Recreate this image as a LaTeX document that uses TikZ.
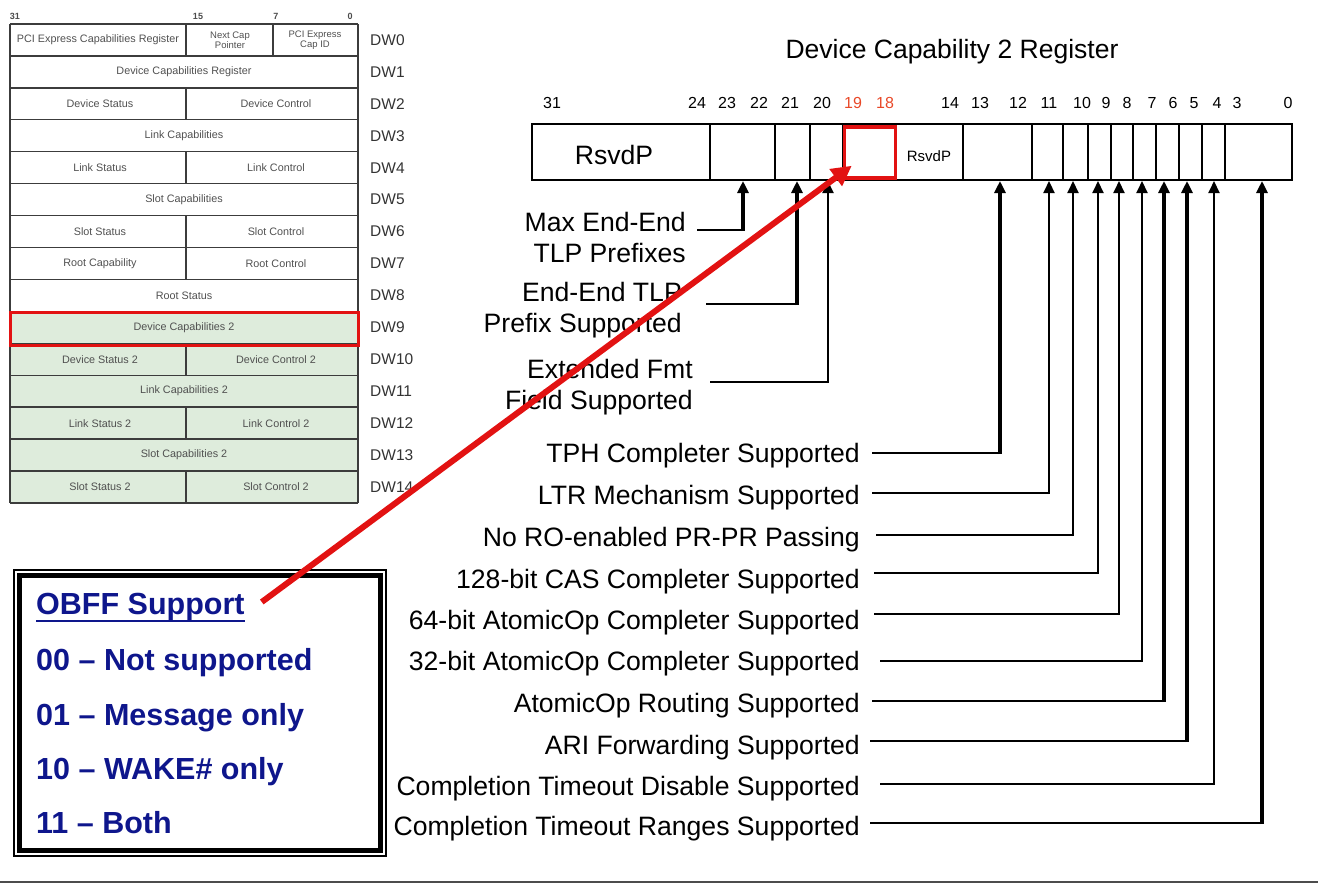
\documentclass[tikz,border=0pt]{standalone}
\usepackage{fontspec}
\setmainfont{Liberation Sans}
\usetikzlibrary{arrows.meta}
\definecolor{tabgreen}{RGB}{222,236,220}
\definecolor{navyt}{RGB}{14,22,140}
\definecolor{redbox}{RGB}{226,18,18}
\definecolor{bitred}{RGB}{232,72,40}
\definecolor{tabline}{RGB}{60,60,60}
\definecolor{tabtext}{RGB}{80,80,80}
\newcommand\lblfont{\fontsize{26.6}{31}\selectfont}
\newcommand\bitfont{\fontsize{16}{18}\selectfont}
\newcommand\tabfont{\fontsize{10.8}{11}\selectfont}
\newcommand\legfont{\fontsize{30.5}{34}\selectfont\bfseries}
\begin{document}
\begin{tikzpicture}[x=1pt,y=-1pt,
  lbl/.style={font=\lblfont, anchor=east, inner sep=0pt, text height=19pt, text depth=0pt},
  lbltwo/.style={font=\lblfont, anchor=east, inner sep=0pt, align=right},
  conn/.style={draw=black, -{Triangle[width=11pt,length=12pt]}},
  hconn/.style={draw=black, line width=2pt},
  bitnum/.style={font=\bitfont, inner sep=0pt},
  tabtxt/.style={font=\tabfont, text=tabtext, inner sep=0pt, align=center},
  dwlbl/.style={font=\fontsize{15.5}{17}\selectfont, text=black!80, anchor=west, inner sep=0pt},
  tline/.style={draw=tabline, line width=1.4pt},
  legtxt/.style={font=\legfont, text=navyt, anchor=west, inner sep=0pt, text height=21.8pt, text depth=0pt},
  redarrow/.style={draw=redbox, line width=6pt, -{Triangle[width=20pt,length=20pt]}}
]
\useasboundingbox (0,0) rectangle (1318,884);

% ---------------- left table ----------------
\fill[tabgreen] (10,311.4) rectangle (358,503);
\foreach \i in {0,...,15} \draw[tline] (10,{24+\i*31.93}) -- (358,{24+\i*31.93});
\draw[tline] (10,24) -- (10,503);
\draw[tline] (358,24) -- (358,503);
\foreach \i in {0,2,4,6,7,10,12,14} \draw[tline] (186,{24+\i*31.93}) -- (186,{24+(\i+1)*31.93});
\draw[tline] (273,24) -- (273,55.93);

\node[font=\fontsize{9}{10}\selectfont\bfseries, text=black!70, inner sep=0pt] (tb31) at (15,16) {31};
\node[font=\fontsize{9}{10}\selectfont\bfseries, text=black!70, inner sep=0pt] (tb15) at (198,16) {15};
\node[font=\fontsize{9}{10}\selectfont\bfseries, text=black!70, inner sep=0pt] (tb7) at (276,16) {7};
\node[font=\fontsize{9}{10}\selectfont\bfseries, text=black!70, inner sep=0pt] (tb0) at (350,16) {0};

\node[tabtxt] (c0a) at (98,40) {PCI Express Capabilities Register};
\node[tabtxt, font=\fontsize{9.5}{9.8}\selectfont] (c0b) at (230,40) {Next Cap\\Pointer};
\node[tabtxt, font=\fontsize{9.5}{9.8}\selectfont] (c0c) at (315,40) {PCI Express\\Cap ID};
\node[tabtxt] (c1) at (184,72) {Device Capabilities Register};
\node[tabtxt] (c2a) at (100,104) {Device Status};
\node[tabtxt] (c2b) at (276,104) {Device Control};
\node[tabtxt] (c3) at (184,136) {Link Capabilities};
\node[tabtxt] (c4a) at (100,168) {Link Status};
\node[tabtxt] (c4b) at (276,168) {Link Control};
\node[tabtxt] (c5) at (184,199.6) {Slot Capabilities};
\node[tabtxt] (c6a) at (100,231.5) {Slot Status};
\node[tabtxt] (c6b) at (276,231.5) {Slot Control};
\node[tabtxt] (c7a) at (100,263.5) {Root Capability};
\node[tabtxt] (c7b) at (276,263.5) {Root Control};
\node[tabtxt] (c8) at (184,295.4) {Root Status};
\node[tabtxt] (c9) at (184,327.4) {Device Capabilities 2};
\node[tabtxt] (c10a) at (100,359.3) {Device Status 2};
\node[tabtxt] (c10b) at (276,359.3) {Device Control 2};
\node[tabtxt] (c11) at (184,391.2) {Link Capabilities 2};
\node[tabtxt] (c12a) at (100,423.2) {Link Status 2};
\node[tabtxt] (c12b) at (276,423.2) {Link Control 2};
\node[tabtxt] (c13) at (184,455.1) {Slot Capabilities 2};
\node[tabtxt] (c14a) at (100,487) {Slot Status 2};
\node[tabtxt] (c14b) at (276,487) {Slot Control 2};

\foreach \i in {0,...,14} \node[dwlbl] (dw\i) at (370,{24+(\i+0.5)*31.93}) {DW\i};

\draw[draw=redbox, line width=3pt] (10,312.5) rectangle (358,345);

% ---------------- register ----------------
\node[font=\fontsize{26.5}{30}\selectfont, inner sep=0pt] (title) at (952,52) {Device Capability 2 Register};

\node[draw, line width=2pt, minimum width=760pt, minimum height=56pt, inner sep=0pt] (reg) at (912,152) {};
\foreach \x in {710,775,810,843,896,963,1032,1063,1088,1111,1133,1156,1179,1202,1225}
  \draw[line width=1.8pt] (\x,124) -- (\x,180);
\node[font=\lblfont, inner sep=0pt] (rsv1) at (614,155) {RsvdP};
\node[font=\fontsize{15}{17}\selectfont, inner sep=0pt] (rsv2) at (929,156) {RsvdP};
\node[draw=redbox, line width=3.5pt, minimum width=51pt, minimum height=51pt, inner sep=0pt] (rbox) at (870,152.5) {};

\foreach \n/\x in {31/552,24/697,23/727,22/759,21/790,20/822,14/950,13/980,12/1018,11/1049,10/1082,9/1106,8/1127,7/1152,6/1173,5/1194,4/1217,3/1237,0/1288}
  \node[bitnum] (bit\n) at (\x,103) {\n};
\node[bitnum, text=bitred] (bit19) at (853,103) {19};
\node[bitnum, text=bitred] (bit18) at (885,103) {18};

% ---------------- upper labels ----------------
\node[lbltwo] (lmax) at (686,237) {Max End-End\\TLP Prefixes};
\node[lbltwo] (lend) at (682,310) {End-End TLP\\Prefix Supported};
\node[lbltwo] (lext) at (693,387) {Extended Fmt\\Field Supported};
\coordinate (tmax) at (743,181);
\coordinate (tend) at (797,181);
\coordinate (text) at (828,181);
\coordinate (smax) at ([shift={(11,-7)}]lmax.east);
\coordinate (send) at ([shift={(24,-6)}]lend.east);
\coordinate (sext) at ([shift={(17,-5)}]lext.east);
\draw[hconn] (smax) -- (smax -| tmax);
\draw[conn, line width=3.8pt] ([yshift=-1pt]smax -| tmax) -- (tmax);
\draw[hconn] (send) -- (send -| tend);
\draw[conn, line width=3.8pt] ([yshift=-1pt]send -| tend) -- (tend);
\draw[hconn] (sext) -- (sext -| text);
\draw[conn, line width=2pt] ([yshift=-1pt]sext -| text) -- (text);

% ---------------- lower labels ----------------
\foreach \n/\t/\ty/\ly/\sx/\tx/\w in {
  TPH/TPH Completer Supported/453/453/872/1000/3.8,
  LTR/LTR Mechanism Supported/495/493/872/1049/2.2,
  RO/No RO-enabled PR-PR Passing/537/535/876/1073/2,
  CAS/128-bit CAS Completer Supported/579/573/874/1098/2,
  A64/64-bit AtomicOp Completer Supported/620/614/874/1119/2,
  A32/32-bit AtomicOp Completer Supported/661/661/880/1142/2,
  AR/AtomicOp Routing Supported/703/701/872/1164/3.8,
  ARI/ARI Forwarding Supported/745/741/870/1187/3.8,
  CTD/Completion Timeout Disable Supported/786/784/880/1214/2,
  CTR/Completion Timeout Ranges Supported/826/823/870/1262/3.8}
{
  \node[lbl] (l\n) at (860,\ty) {\t};
  \coordinate (t\n) at (\tx,181);
  \coordinate (s\n) at ([shift={(\sx-860,\ly-\ty)}]l\n.east);
  \draw[hconn] (s\n) -- (s\n -| t\n);
  \draw[conn, line width=\w pt] ([yshift=-1pt]s\n -| t\n) -- (t\n);
}

% ---------------- legend ----------------
\draw[line width=1.4pt] (14,570) rectangle (386,856);
\draw[line width=4.5pt] (19.5,575.5) rectangle (380.5,850.5);
\node[legtxt] (obff) at (36,604) {OBFF Support};
\draw[navyt, line width=2.2pt] ([yshift=-5.5pt]obff.south west) -- ([yshift=-5.5pt]obff.south east);
\node[legtxt] (leg0) at (36,660) {00 – Not supported};
\node[legtxt] (leg1) at (36,715) {01 – Message only};
\node[legtxt] (leg2) at (36,769) {10 – WAKE\# only};
\node[legtxt] (leg3) at (36,823) {11 – Both};

% bottom rule
\draw[black!70, line width=1.5pt] (0,882) -- (1318,882);

% red pointer
\draw[redarrow] ([shift={(17,-2)}]obff.east) -- ([shift={(9,-14)}]rbox.south west);
\end{tikzpicture}
\end{document}
